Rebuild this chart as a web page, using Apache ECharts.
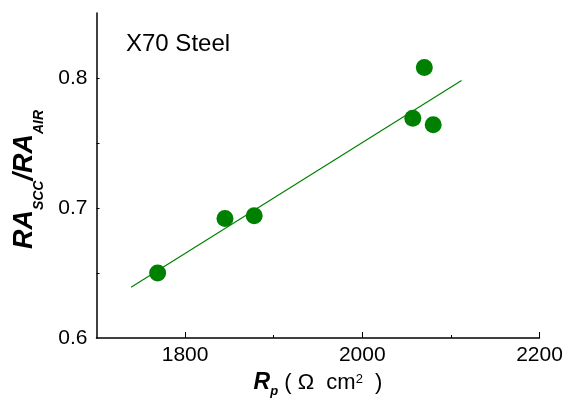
<!DOCTYPE html>
<html>
<head>
<meta charset="utf-8">
<script src="https://cdn.jsdelivr.net/npm/echarts@6/dist/echarts.min.js"></script>
<style>
html,body{margin:0;padding:0;background:#fff;}
#chart{width:562px;height:402px;}
</style>
</head>
<body>
<div id="chart"></div>
<script>
// Data
const rpValues = [1769, 1845, 1878, 2057, 2070, 2080];
const raRatio = [0.650, 0.692, 0.694, 0.769, 0.808, 0.764];
const fitRp = [1739, 2112];
const fitRa = [0.639, 0.798];
const xMajorTicks = [1800, 2000, 2200];
const xMinorTicks = [1900, 2100];
const yMajorLabels = [0.6, 0.7, 0.8];
const yMajorTicks = [0.7, 0.8];
const yMinorTicks = [0.65, 0.75];
const panelLabel = 'X70 Steel';

const FONT = '"Liberation Sans", Arial, Helvetica, sans-serif';
const GREEN = '#008000';

const scatterData = rpValues.map((x, i) => [x, raRatio[i]]);
const fitData = fitRp.map((x, i) => [x, fitRa[i]]);

const chart = echarts.init(document.getElementById('chart'), null, {renderer: 'canvas'});

const axisLineStyle = {color: '#000', width: 1.5};

chart.setOption({
  animation: false,
  backgroundColor: '#fff',
  title: {
    text: panelLabel,
    left: 126,
    top: 32,
    padding: 0,
    textStyle: {fontFamily: FONT, fontSize: 24, fontWeight: 'normal', color: '#000'}
  },
  grid: {left: 96.5, right: 22.5, top: 13, bottom: 64, outerBoundsMode: 'none', containLabel: false},
  xAxis: [{
    type: 'value',
    min: 1700, max: 2200,
    position: 'bottom',
    axisLine: {show: true, onZero: false, lineStyle: axisLineStyle},
    axisTick: {show: true, inside: true, length: 6, customValues: xMajorTicks, lineStyle: {color: '#000', width: 1}},
    axisLabel: {show: true, customValues: xMajorTicks, margin: 7, fontFamily: FONT, fontSize: 21, color: '#000',
      formatter: v => String(Math.round(v))},
    splitLine: {show: false},
    name: '{b|R}{bs|p}{n| ( Ω  cm}{sup|2}{n|  )}',
    nameLocation: 'middle',
    nameGap: 30,
    nameTextStyle: {
      rich: {
        b: {fontFamily: FONT, fontSize: 23, fontWeight: 'bold', fontStyle: 'italic', color: '#000', lineHeight: 24, padding: [0,0,4,0], verticalAlign: 'bottom'},
        bs: {fontFamily: FONT, fontSize: 13, fontWeight: 'bold', fontStyle: 'italic', color: '#000', lineHeight: 14, verticalAlign: 'bottom'},
        n: {fontFamily: FONT, fontSize: 22, color: '#000', lineHeight: 24, padding: [0,0,4,0], verticalAlign: 'bottom'},
        sup: {fontFamily: FONT, fontSize: 13, color: '#000', lineHeight: 14, padding: [0,0,12,0], verticalAlign: 'bottom'}
      }
    }
  }, {
    type: 'value',
    min: 1700, max: 2200,
    position: 'bottom',
    axisLine: {show: false, onZero: false},
    axisTick: {show: true, inside: true, length: 3, customValues: xMinorTicks, lineStyle: {color: '#000', width: 1}},
    axisLabel: {show: false},
    splitLine: {show: false}
  }],
  yAxis: [{
    type: 'value',
    min: 0.6, max: 0.85,
    position: 'left',
    axisLine: {show: true, onZero: false, lineStyle: axisLineStyle},
    axisTick: {show: true, inside: true, length: 3, customValues: yMajorTicks, lineStyle: {color: '#000', width: 1}},
    axisLabel: {show: true, customValues: yMajorLabels, margin: 9, fontFamily: FONT, fontSize: 21, color: '#000',
      formatter: v => Number(v).toFixed(1)},
    splitLine: {show: false},
    name: '{m|RA}{s|SCC}{m|/RA}{s|AIR}',
    nameLocation: 'middle',
    nameRotate: 90,
    nameGap: 50,
    nameTextStyle: {
      padding: [0, 8, 0, 0],
      rich: {
        m: {fontFamily: FONT, fontSize: 27, fontWeight: 'bold', fontStyle: 'italic', color: '#000', lineHeight: 28, padding: [0,0,8,0], verticalAlign: 'bottom'},
        s: {fontFamily: FONT, fontSize: 14, fontWeight: 'bold', fontStyle: 'italic', color: '#000', lineHeight: 14, verticalAlign: 'bottom'}
      }
    }
  }, {
    type: 'value',
    min: 0.6, max: 0.85,
    position: 'left',
    axisLine: {show: false, onZero: false},
    axisTick: {show: true, inside: true, length: 3, customValues: yMinorTicks, lineStyle: {color: '#000', width: 1}},
    axisLabel: {show: false},
    splitLine: {show: false}
  }],
  series: [{
    type: 'line',
    data: fitData,
    xAxisIndex: 0, yAxisIndex: 0,
    symbol: 'none',
    lineStyle: {color: GREEN, width: 1.2},
    silent: true
  }, {
    type: 'scatter',
    data: scatterData,
    xAxisIndex: 0, yAxisIndex: 0,
    symbol: 'circle',
    symbolSize: 17,
    itemStyle: {color: GREEN, opacity: 1},
    z: 3
  }]
});
</script>
</body>
</html>
